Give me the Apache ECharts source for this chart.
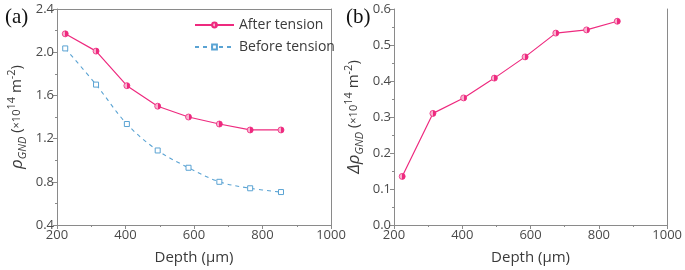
<!DOCTYPE html>
<html>
<head>
<meta charset="utf-8">
<script src="https://cdn.jsdelivr.net/npm/echarts@6/dist/echarts.min.js"></script>
<style>
  html, body { margin: 0; padding: 0; background: #fff; }
  #chart { width: 685px; height: 270px; }
</style>
</head>
<body>
<div id="chart"></div>
<script>
// 数据
const depth = [224, 314, 404, 494, 584, 674, 764, 854];
const afterTension = [2.17, 2.01, 1.69, 1.50, 1.40, 1.335, 1.28, 1.28];
const beforeTension = [2.035, 1.70, 1.335, 1.09, 0.93, 0.80, 0.74, 0.705];
const deltaRho = [0.135, 0.31, 0.353, 0.408, 0.467, 0.533, 0.542, 0.566];
const xTicks = [200, 400, 600, 800, 1000];

const pink = '#ee2a7f';
const pinkLight = '#f8b3cf';
const blue = '#5aa3d3';
const axisGray = '#8a8a8a';
const font = 'Open Sans';

// 半填充圆点
const halfFill = new echarts.graphic.LinearGradient(0, 0, 1, 0, [
  { offset: 0, color: pinkLight },
  { offset: 0.5, color: pinkLight },
  { offset: 0.5, color: pink },
  { offset: 1, color: pink }
]);

const pairs = (xs, ys) => xs.map((x, i) => [x, ys[i]]);

function xAxisCfg(idx) {
  return {
    gridIndex: idx, type: 'value', min: 200, max: 1000, interval: 200,
    name: 'Depth (μm)', nameLocation: 'middle', nameGap: 25,
    nameTextStyle: { fontFamily: font, fontSize: 15, color: '#3a3a3a' },
    axisLine: { onZero: false, lineStyle: { color: axisGray, width: 1 } },
    axisTick: { show: true, length: 4, lineStyle: { color: axisGray } },
    minorTick: { show: true, splitNumber: 2, length: 2, lineStyle: { color: axisGray } },
    axisLabel: { fontFamily: font, fontSize: 13, color: '#4a4a4a', margin: 4,
      formatter: v => xTicks.includes(v) ? String(v) : '' },
    splitLine: { show: false }
  };
}
function xTopCfg(idx) {
  return { gridIndex: idx, type: 'value', position: 'top', min: 200, max: 1000,
    axisLine: { lineStyle: { color: axisGray } }, axisTick: { show: false },
    axisLabel: { show: false }, splitLine: { show: false } };
}
function yRightCfg(idx, min, max) {
  return { gridIndex: idx, type: 'value', position: 'right', min: min, max: max,
    axisLine: { show: true, lineStyle: { color: axisGray } }, axisTick: { show: false },
    axisLabel: { show: false }, splitLine: { show: false } };
}
function yAxisCfg(idx, min, max, interval, digits, name, gap) {
  return {
    gridIndex: idx, type: 'value', min: min, max: max, interval: interval,
    name: name, nameLocation: 'middle', nameGap: gap, nameRotate: 90,
    nameTextStyle: {
      fontFamily: font, fontSize: 15, color: '#3a3a3a', lineHeight: 22,
      rich: {
        g: { fontFamily: font, fontSize: 17, fontStyle: 'italic', color: '#3a3a3a', lineHeight: 22, verticalAlign: 'middle' },
        sub: { fontFamily: font, fontSize: 11, fontStyle: 'italic', color: '#3a3a3a', lineHeight: 22, verticalAlign: 'bottom' },
        t: { fontFamily: font, fontSize: 15, color: '#3a3a3a', lineHeight: 22, verticalAlign: 'middle' },
        s: { fontFamily: font, fontSize: 11, color: '#3a3a3a', lineHeight: 22, verticalAlign: 'middle' },
        sup: { fontFamily: font, fontSize: 11, color: '#3a3a3a', lineHeight: 22, verticalAlign: 'top' }
      }
    },
    axisLine: { show: true, onZero: false, lineStyle: { color: axisGray, width: 1 } },
    axisTick: { show: true, length: 4, lineStyle: { color: axisGray } },
    minorTick: { show: true, splitNumber: 2, length: 2, lineStyle: { color: axisGray } },
    axisLabel: { fontFamily: font, fontSize: 13, color: '#4a4a4a', margin: 3,
      formatter: v => v.toFixed(digits) },
    splitLine: { show: false }
  };
}

const chart = echarts.init(document.getElementById('chart'), null, { renderer: 'canvas' });
chart.setOption({
  animation: false,
  backgroundColor: '#fff',
  grid: [
    { left: 57, right: 354, top: 9, bottom: 40 },
    { left: 394, right: 16, top: 9, bottom: 40 }
  ],
  title: [
    { text: '(a)', left: 0, top: 2, textStyle: { fontFamily: 'Liberation Serif', fontSize: 21, fontWeight: 'normal', color: '#111' } },
    { text: '(b)', left: 341, top: 2, textStyle: { fontFamily: 'Liberation Serif', fontSize: 21, fontWeight: 'normal', color: '#111' } }
  ],
  legend: {
    orient: 'vertical', left: 189, top: 13, itemWidth: 39, itemHeight: 6, itemGap: 8,
    textStyle: { fontFamily: font, fontSize: 14, color: '#3a3a3a' },
    data: ['After tension', 'Before tension']
  },
  xAxis: [xAxisCfg(0), xAxisCfg(1), xTopCfg(0), xTopCfg(1)],
  yAxis: [
    yAxisCfg(0, 0.4, 2.4, 0.4, 1, '{g|ρ}{sub|GND}{t| (}{s|×10}{sup|14}{t| m}{sup|-2}{t|)}', 29),
    yAxisCfg(1, 0.0, 0.6, 0.1, 1, '{g|Δρ}{sub|GND}{t| (}{s|×10}{sup|14}{t| m}{sup|-2}{t|)}', 29),
    yRightCfg(0, 0.4, 2.4),
    yRightCfg(1, 0.0, 0.6)
  ],
  series: [
    {
      name: 'After tension', type: 'line', xAxisIndex: 0, yAxisIndex: 0,
      data: pairs(depth, afterTension),
      symbol: 'circle', symbolSize: 6,
      lineStyle: { color: pink, width: 1.2 },
      itemStyle: { color: halfFill, borderColor: pink, borderWidth: 0.8 }
    },
    {
      name: 'Before tension', type: 'line', xAxisIndex: 0, yAxisIndex: 0,
      data: pairs(depth, beforeTension), smooth: 0.35,
      symbol: 'rect', symbolSize: 5,
      lineStyle: { color: blue, width: 1.1, type: [4, 4] },
      itemStyle: { color: '#fff', borderColor: blue, borderWidth: 1 }
    },
    {
      name: 'delta', type: 'line', xAxisIndex: 1, yAxisIndex: 1,
      data: pairs(depth, deltaRho),
      symbol: 'circle', symbolSize: 6,
      lineStyle: { color: pink, width: 1.2 },
      itemStyle: { color: halfFill, borderColor: pink, borderWidth: 0.8 }
    }
  ]
});
</script>
</body>
</html>
